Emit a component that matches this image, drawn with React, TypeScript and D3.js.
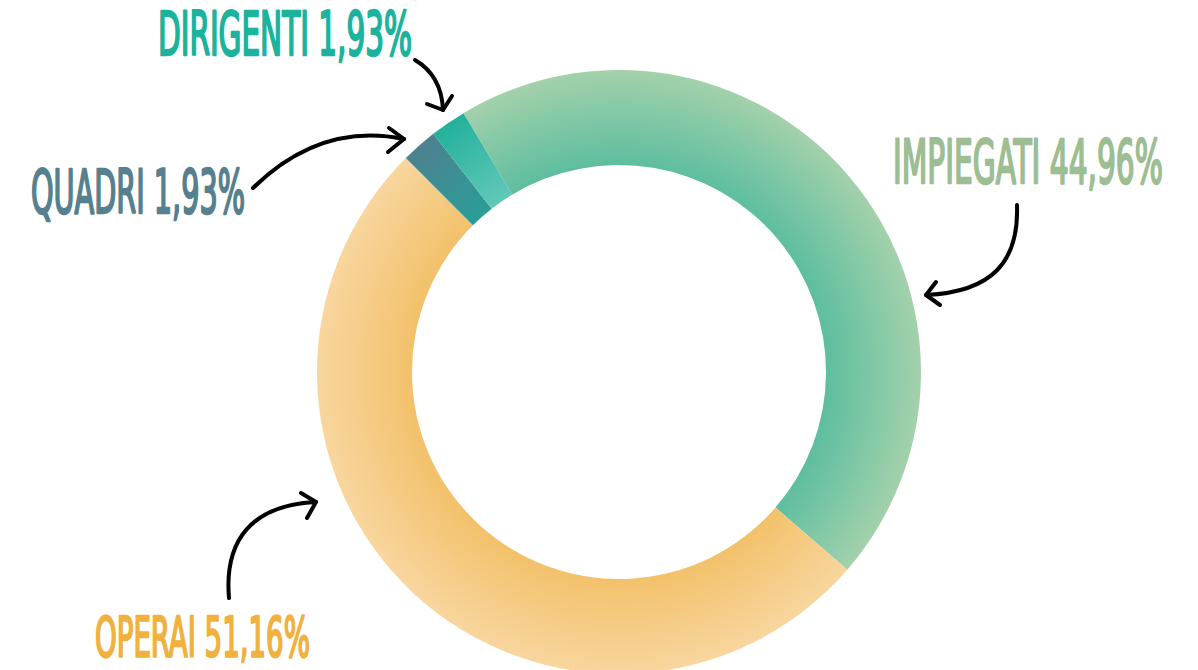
import React, { useEffect, useRef } from "react";
import * as d3 from "d3";

const categories = ["IMPIEGATI", "OPERAI", "QUADRI", "DIRIGENTI"];
const values = [44.96, 51.16, 1.93, 1.93];
const textColors = ["#9dbd93", "#f0b13f", "#55808f", "#1bb39c"];
const innerColors = ["#5dbe9f", "#f3c16b", "#2a9e96", "#62c8b9"];
const outerColors = ["#a3d1ab", "#f8d69e", "#4e8190", "#23b19c"];

// label placement (x, baseline, width, font size) and arrows for each category
const labelLayout = [
  { x: 893, y: 183, w: 270, fs: 60 },
  { x: 95, y: 656, w: 215, fs: 56 },
  { x: 31, y: 213, w: 214, fs: 60 },
  { x: 158, y: 55, w: 254, fs: 60 },
];
const arrowLayout = [
  { d: "M1017,205 C1019,262 992,292 926,295", head: "M936,282 L926,295 L940,305" },
  { d: "M229,598 C224,540 252,505 316,502", head: "M301,493 L316,502 L307,518" },
  { d: "M253,188 C300,142 350,128 404,139", head: "M389,128 L404,139 L388,152" },
  { d: "M415,60 C432,70 442,86 443,110", head: "M427,104 L443,110 L452,96" },
];

const width = 1198;
const height = 670;
const cx = 619;
const cy = 372;
const outerR = 302;
const innerR = 207;

export default function App() {
  const ref = useRef<SVGSVGElement>(null);

  useEffect(() => {
    const svg = d3.select(ref.current);
    svg.selectAll("*").remove();

    const defs = svg.append("defs");
    categories.forEach((c, i) => {
      // gradient lives in the translated group's space, so centre is 0,0
      const g = defs
        .append("radialGradient")
        .attr("id", "grad" + i)
        .attr("gradientUnits", "userSpaceOnUse")
        .attr("cx", 0)
        .attr("cy", 0)
        .attr("r", outerR);
      g.append("stop").attr("offset", innerR / outerR).attr("stop-color", innerColors[i]);
      g.append("stop").attr("offset", 1).attr("stop-color", outerColors[i]);
    });

    const start = (-31 * Math.PI) / 180;
    const pie = d3
      .pie<number>()
      .sort(null)
      .value((d) => d)
      .startAngle(start)
      .endAngle(start + 2 * Math.PI);
    const arc = d3.arc<d3.PieArcDatum<number>>().innerRadius(innerR).outerRadius(outerR);

    const g = svg.append("g").attr("transform", `translate(${cx},${cy})`);
    g.selectAll("path")
      .data(pie(values))
      .enter()
      .append("path")
      .attr("d", arc)
      .attr("fill", (d, i) => `url(#grad${i})`);

    const fmt = (v: number) => v.toFixed(2).replace(".", ",") + "%";

    // condensed look: measure natural width then squeeze horizontally
    svg
      .selectAll("text.lbl")
      .data(categories)
      .enter()
      .append("text")
      .attr("class", "lbl")
      .style("font-family", "'Liberation Sans Narrow', 'DejaVu Sans Condensed', sans-serif")
      .style("font-size", (d, i) => labelLayout[i].fs + "px")
      .attr("fill", (d, i) => textColors[i])
      .attr("stroke", (d, i) => textColors[i])
      .attr("stroke-width", 2.4)
      .attr("stroke-linejoin", "round")
      .text((d, i) => `${d} ${fmt(values[i])}`)
      .each(function (d, i) {
        const el = this as SVGTextElement;
        const natural = el.getComputedTextLength() || 1;
        const L = labelLayout[i];
        d3.select(el).attr("transform", `translate(${L.x},${L.y}) scale(${L.w / natural},1)`);
      });

    const ag = svg.append("g").attr("fill", "none").attr("stroke", "#000").attr("stroke-width", 4)
      .attr("stroke-linecap", "round").attr("stroke-linejoin", "round");
    arrowLayout.forEach((a) => {
      ag.append("path").attr("d", a.d);
      ag.append("path").attr("d", a.head);
    });
  }, []);

  return (
    <svg
      ref={ref}
      width={width}
      height={height}
      style={{ position: "absolute", left: 0, top: 0, background: "#fff" }}
    />
  );
}
